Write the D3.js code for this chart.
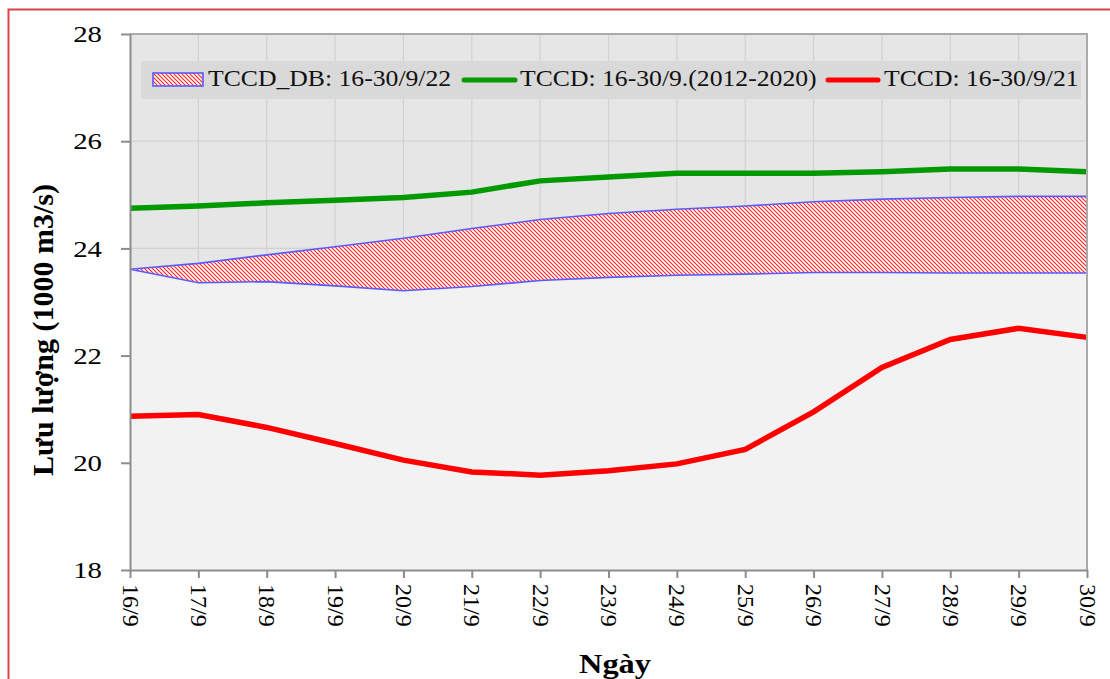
<!DOCTYPE html>
<html>
<head>
<meta charset="utf-8">
<script src="https://cdn.jsdelivr.net/npm/d3@7"></script>
<style>
  body { margin: 0; background: #fff; }
  svg { display: block; }
  svg text { font-family: "Liberation Serif", "Times New Roman", serif; }
</style>
</head>
<body>
<svg id="chart" width="1110" height="679"></svg>
<script>
const categories = ["16/9", "17/9", "18/9", "19/9", "20/9", "21/9", "22/9", "23/9", "24/9", "25/9", "26/9", "27/9", "28/9", "29/9", "30/9"];
const dbLow = [23.61, 23.36, 23.38, 23.30, 23.21, 23.29, 23.40, 23.46, 23.50, 23.52, 23.55, 23.55, 23.54, 23.54, 23.54];
const dbHigh = [23.61, 23.72, 23.88, 24.03, 24.19, 24.37, 24.54, 24.65, 24.73, 24.79, 24.87, 24.92, 24.95, 24.97, 24.97];
const avg2012 = [24.75, 24.79, 24.85, 24.90, 24.95, 25.05, 25.26, 25.33, 25.40, 25.40, 25.40, 25.43, 25.48, 25.48, 25.43];
const y2021 = [20.87, 20.90, 20.66, 20.36, 20.05, 19.83, 19.77, 19.85, 19.98, 20.25, 20.95, 21.78, 22.30, 22.51, 22.34];
const yTicks = [18, 20, 22, 24, 26, 28];
const legendLabels = ["TCCD_DB: 16-30/9/22", "TCCD: 16-30/9.(2012-2020)", "TCCD: 16-30/9/21"];

const svg = d3.select("#chart");
const margin = { top: 34, right: 23, bottom: 109, left: 130 };
const width = 1110, height = 679;

const x = d3.scalePoint()
    .domain(categories)
    .range([margin.left, width - margin.right]);

const y = d3.scaleLinear()
    .domain([18, 28])
    .range([height - margin.bottom, margin.top]);

// outer frame
svg.append("rect")
    .attr("x", 8.5).attr("y", 9.5)
    .attr("width", width + 10).attr("height", height + 10)
    .attr("fill", "none")
    .attr("stroke", "#d64545")
    .attr("stroke-width", 2);

// hatch pattern
const defs = svg.append("defs");
const pat = defs.append("pattern")
    .attr("id", "hatch")
    .attr("patternUnits", "userSpaceOnUse")
    .attr("width", 4).attr("height", 4);
pat.append("rect").attr("width", 4).attr("height", 4).attr("fill", "#fff");
pat.append("path")
    .attr("d", "M-1,-1 L5,5 M-1,3 L1,5 M3,-1 L5,1")
    .attr("stroke", "#ff2020")
    .attr("stroke-width", 1.1);

// plot background
svg.append("rect")
    .attr("x", margin.left).attr("y", margin.top)
    .attr("width", width - margin.right - margin.left)
    .attr("height", height - margin.bottom - margin.top)
    .attr("fill", "#e6e6e6");

// grid
svg.append("g")
    .selectAll("line")
    .data(categories.slice(1, -1))
    .join("line")
    .attr("x1", d => x(d)).attr("x2", d => x(d))
    .attr("y1", margin.top).attr("y2", height - margin.bottom)
    .attr("stroke", "#d2d2d2").attr("stroke-width", 1.2);

svg.append("g")
    .selectAll("line")
    .data(yTicks.slice(1, -1))
    .join("line")
    .attr("x1", margin.left).attr("x2", width - margin.right)
    .attr("y1", d => y(d)).attr("y2", d => y(d))
    .attr("stroke", "#d2d2d2").attr("stroke-width", 1.2);

// lower (base) area
const baseArea = d3.area()
    .x((d, i) => x(categories[i]))
    .y0(y(18))
    .y1(d => y(d));

svg.append("path")
    .datum(dbLow)
    .attr("d", baseArea)
    .attr("fill", "#f2f2f2");

// band
const band = d3.area()
    .x((d, i) => x(categories[i]))
    .y0((d, i) => y(dbLow[i]))
    .y1(d => y(d));

svg.append("path")
    .datum(dbHigh)
    .attr("d", band)
    .attr("fill", "url(#hatch)")
    .attr("stroke", "#5a5aff")
    .attr("stroke-width", 1.6);

const line = d3.line()
    .x((d, i) => x(categories[i]))
    .y(d => y(d));

svg.append("path")
    .datum(avg2012)
    .attr("d", line)
    .attr("fill", "none")
    .attr("stroke", "#009a00")
    .attr("stroke-width", 5.5);

svg.append("path")
    .datum(y2021)
    .attr("d", line)
    .attr("fill", "none")
    .attr("stroke", "#ff0000")
    .attr("stroke-width", 5.5);

// frame top/right
svg.append("path")
    .attr("d", `M${margin.left},${margin.top}H${width - margin.right}V${height - margin.bottom}`)
    .attr("fill", "none")
    .attr("stroke", "#ababab")
    .attr("stroke-width", 2);

// axes
const yAxis = svg.append("g")
    .attr("transform", `translate(${margin.left},0)`)
    .call(d3.axisLeft(y).tickValues(yTicks).tickSize(9).tickPadding(0).tickSizeOuter(0));

yAxis.selectAll("text")
    .attr("x", null)
    .attr("font-size", 24)
    .attr("fill", "#000")
    .attr("transform", "translate(-28,0) scale(1.2,1)");

const xAxis = svg.append("g")
    .attr("transform", `translate(0,${height - margin.bottom})`)
    .call(d3.axisBottom(x).tickSize(8).tickSizeOuter(0));

xAxis.selectAll("text")
    .attr("x", 0).attr("y", 0).attr("dy", "0.33em")
    .attr("text-anchor", "start")
    .attr("font-size", 24)
    .attr("fill", "#000")
    .attr("transform", "translate(0,14) rotate(90)");

svg.selectAll(".domain, .tick line")
    .attr("stroke", "#8c8c8c")
    .attr("stroke-width", 2);

// axis titles
svg.append("text")
    .attr("transform", "translate(53,330) rotate(-90)")
    .attr("text-anchor", "middle")
    .attr("font-size", 30)
    .attr("font-weight", "bold")
    .text("Lưu lượng (1000 m3/s)");

svg.append("text")
    .attr("transform", "translate(615,673) scale(1.2,1)")
    .attr("text-anchor", "middle")
    .attr("font-size", 27)
    .attr("font-weight", "bold")
    .text("Ngày");

// legend
const lg = svg.append("g");
lg.append("rect")
    .attr("x", 141).attr("y", 61)
    .attr("width", 940).attr("height", 38)
    .attr("fill", "#d9d9d9");

lg.append("rect")
    .attr("x", 153).attr("y", 73)
    .attr("width", 50).attr("height", 13)
    .attr("fill", "url(#hatch)")
    .attr("stroke", "#5a5aff")
    .attr("stroke-width", 1.6);

lg.append("line")
    .attr("x1", 464).attr("x2", 515)
    .attr("y1", 80).attr("y2", 80)
    .attr("stroke", "#009a00").attr("stroke-width", 5).attr("stroke-linecap", "round");

lg.append("line")
    .attr("x1", 828).attr("x2", 878)
    .attr("y1", 80).attr("y2", 80)
    .attr("stroke", "#ff0000").attr("stroke-width", 5).attr("stroke-linecap", "round");

const legendX = [208, 520, 884];
lg.selectAll("text")
    .data(legendLabels)
    .join("text")
    .attr("transform", (d, i) => `translate(${legendX[i]},86) scale(1.07,1)`)
    .attr("font-size", 24)
    .attr("fill", "#111")
    .text(d => d);
</script>
</body>
</html>
